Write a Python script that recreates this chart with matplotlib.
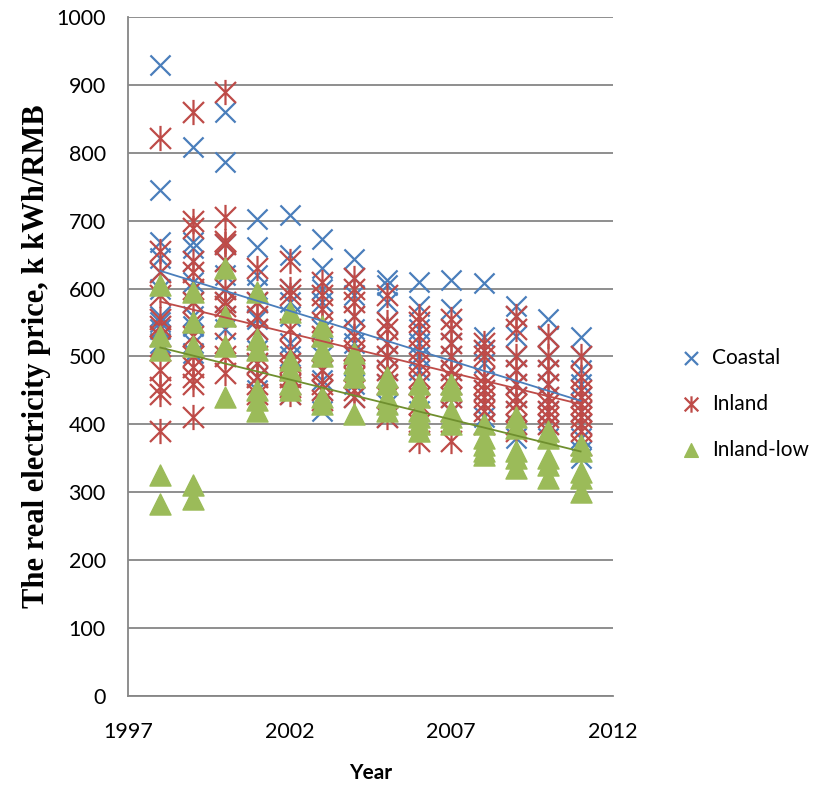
import numpy as np
import matplotlib.pyplot as plt
from matplotlib.path import Path

years = list(range(1998, 2012))

coastal = [
    [930, 745, 668, 645, 625, 600, 560, 550, 540, 530, 520],
    [808, 668, 660, 640, 610, 580, 560, 545, 520, 505],
    [860, 787, 665, 640, 620, 600, 580, 560, 540],
    [703, 662, 620, 600, 580, 555, 540, 510, 490, 470, 450],
    [708, 650, 600, 580, 560, 520, 500, 480, 460, 445],
    [673, 630, 600, 580, 540, 500, 480, 465, 450, 420],
    [643, 615, 590, 560, 540, 520, 500, 480, 460, 440],
    [612, 605, 580, 550, 520, 500, 480, 460, 430, 410],
    [610, 575, 540, 520, 500, 480, 460, 440, 420],
    [612, 570, 540, 520, 500, 480, 460, 440, 420],
    [608, 528, 510, 490, 470, 450, 430, 410, 400],
    [575, 560, 530, 500, 480, 460, 440, 420, 400, 380],
    [555, 530, 500, 480, 460, 440, 420, 400, 390, 380],
    [528, 500, 480, 460, 440, 420, 400, 380, 360, 350],
]
inland = [
    [822, 655, 625, 590, 555, 545, 530, 515, 480, 455, 445, 390],
    [860, 700, 690, 640, 625, 600, 580, 550, 530, 500, 485, 470, 460, 410],
    [890, 705, 670, 665, 640, 600, 580, 575, 560, 520, 500, 475],
    [630, 580, 560, 540, 500, 490, 470, 460, 445],
    [640, 600, 590, 540, 510, 490, 480, 470, 460, 455, 445],
    [610, 590, 570, 550, 530, 510, 480, 460, 450, 435],
    [615, 600, 580, 560, 530, 510, 500, 480, 470, 450, 440],
    [590, 550, 540, 520, 500, 480, 470, 460, 440, 410],
    [560, 550, 530, 510, 490, 470, 460, 440, 430, 400, 375],
    [555, 540, 520, 500, 480, 470, 460, 440, 420, 375],
    [520, 510, 500, 470, 460, 450, 440, 430, 420, 400],
    [560, 540, 500, 480, 460, 440, 430, 420, 400, 390],
    [530, 500, 480, 460, 440, 430, 420, 410, 400, 390],
    [500, 470, 450, 440, 430, 420, 410, 400, 390, 370],
]
inland_low = [
    [605, 530, 510, 325, 282],
    [595, 550, 515, 310, 290],
    [630, 560, 515, 440],
    [595, 525, 510, 450, 435, 420],
    [565, 495, 480, 460, 450],
    [545, 530, 510, 500, 440, 430],
    [505, 490, 480, 470, 415],
    [470, 460, 440, 430, 420],
    [460, 440, 420, 410, 400, 390],
    [460, 450, 420, 410, 400],
    [400, 380, 370, 360, 355],
    [410, 395, 360, 350, 335],
    [390, 380, 350, 340, 320],
    [370, 360, 330, 320, 300],
]

def flat(groups):
    xs, ys = [], []
    for yr, vals in zip(years, groups):
        xs += [yr] * len(vals)
        ys += vals
    return np.array(xs), np.array(ys)

# asterisk marker: x plus vertical bar
star = Path([(-1, -1), (1, 1), (-1, 1), (1, -1), (0, -1.2), (0, 1.2)],
            [Path.MOVETO, Path.LINETO, Path.MOVETO, Path.LINETO, Path.MOVETO, Path.LINETO])

blue, red, green = '#4a7ebb', '#be4b48', '#9bbb59'
font = 'Lato'

fig = plt.figure(figsize=(8.26, 7.85), dpi=100)
ax = fig.add_axes([0.155, 0.114, 0.587, 0.864])

series = [
    ('Coastal', coastal, 'x', blue, 210, '#4a7ebb'),
    ('Inland', inland, star, red, 330, '#be4b48'),
    ('Inland-low', inland_low, '^', green, 230, '#6f8f2e'),
]
for name, data, mk, col, s, tcol in series:
    x, y = flat(data)
    if mk == '^':
        ax.scatter(x, y, marker=mk, s=s, color=col, label=name, zorder=3)
    else:
        ax.scatter(x, y, marker=mk, s=s, color=col, linewidths=1.6, label=name, zorder=3)
for name, data, mk, col, s, tcol in series:
    x, y = flat(data)
    k, b = np.polyfit(x, y, 1)
    ax.plot([1998, 2011], [k * 1998 + b, k * 2011 + b], color=tcol, lw=1.3, zorder=4)

ax.set_xlim(1997, 2012)
ax.set_ylim(0, 1000)
ax.set_xticks([1997, 2002, 2007, 2012])
ax.set_yticks(range(0, 1001, 100))
ax.yaxis.grid(True, color='#868686', lw=1.3)
ax.set_axisbelow(True)
for sp in ['top', 'right']:
    ax.spines[sp].set_visible(False)
for sp in ['left', 'bottom']:
    ax.spines[sp].set_color('#868686')
    ax.spines[sp].set_linewidth(1.3)
ax.tick_params(axis='both', length=0, labelsize=15.5)
ax.tick_params(axis='x', pad=19)
ax.tick_params(axis='y', pad=16)
for lab in ax.get_xticklabels() + ax.get_yticklabels():
    lab.set_fontfamily(font)

ax.set_xlabel('Year', fontsize=15, fontweight='bold', family=font, labelpad=15)
ax.set_ylabel('The real electricity price, k kWh/RMB', fontsize=22, fontweight='bold',
              family='Liberation Serif', labelpad=4)

ax.legend(loc='center left', bbox_to_anchor=(1.08, 0.43), frameon=False,
          prop={'family': font, 'size': 15}, handletextpad=0.0,
          labelspacing=1.25, markerscale=0.65, scatterpoints=1)

fig.savefig('out.png', dpi=100)
